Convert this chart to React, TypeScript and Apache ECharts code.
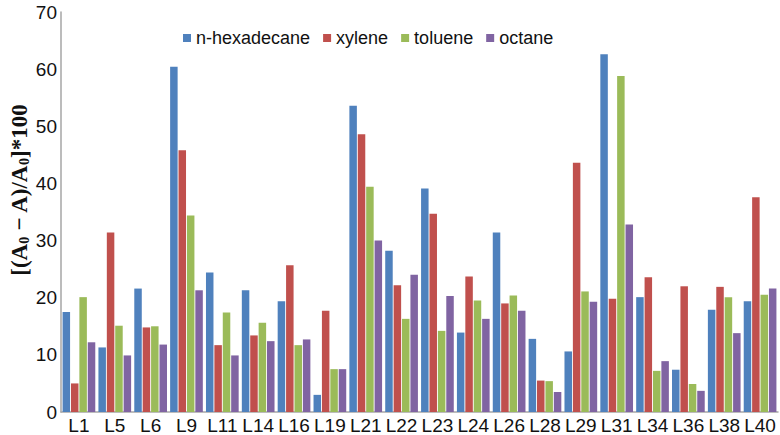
import React, { useEffect, useRef } from "react";
import * as echarts from "echarts";

const categories = ["L1","L5","L6","L9","L11","L14","L16","L19","L21","L22","L23","L24","L26","L28","L29","L31","L34","L36","L38","L40"];
const hexadecane = [17.5,11.3,21.6,60.4,24.4,21.3,19.4,3.0,53.6,28.2,39.1,13.9,31.4,12.8,10.6,62.6,20.1,7.4,17.9,19.4];
const xylene =     [5.0,31.4,14.8,45.8,11.7,13.4,25.7,17.7,48.6,22.2,34.7,23.7,19.0,5.5,43.6,19.8,23.6,22.0,21.9,37.6];
const toluene =    [20.1,15.1,15.0,34.4,17.4,15.6,11.7,7.5,39.4,16.3,14.2,19.5,20.4,5.4,21.1,58.8,7.2,4.9,20.1,20.5];
const octane =     [12.2,9.9,11.8,21.3,9.9,12.4,12.7,7.5,30.0,24.0,20.3,16.3,17.7,3.5,19.3,32.8,8.9,3.7,13.8,21.6];
const seriesNames = ["n-hexadecane","xylene","toluene","octane"];
const seriesColors = ["#4F81BD","#C0504D","#9BBB59","#8064A2"];

export default function App() {
  const ref = useRef<HTMLDivElement>(null);
  useEffect(() => {
    if (!ref.current) return;
    const chart = echarts.init(ref.current, undefined, { renderer: "svg" });
    const sans = "'Liberation Sans', Arial, Helvetica, sans-serif";
    const data = [hexadecane, xylene, toluene, octane];
    chart.setOption({
      animation: false,
      backgroundColor: "#ffffff",
      grid: { left: 61, right: 2, top: 12, bottom: 23, containLabel: false },
      legend: {
        data: seriesNames,
        left: 183,
        top: 29,
        padding: 0,
        icon: "rect",
        itemWidth: 8,
        itemHeight: 8,
        itemGap: 13,
        textStyle: { fontSize: 18, color: "#111", fontFamily: sans },
      },
      xAxis: {
        type: "category",
        data: categories,
        axisLine: { show: true, lineStyle: { color: "#a6a6a6", width: 1.5 } },
        axisTick: { show: false },
        axisLabel: { interval: 0, fontSize: 19, color: "#111", fontFamily: sans, margin: 4 },
        splitLine: { show: false },
      },
      yAxis: {
        type: "value",
        min: 0,
        max: 70,
        interval: 10,
        axisLine: { show: true, lineStyle: { color: "#a6a6a6", width: 1.5 } },
        axisTick: { show: false },
        axisLabel: { fontSize: 19, color: "#111", fontFamily: sans, margin: 4 },
        splitLine: { show: false },
      },
      graphic: [
        {
          type: "text",
          x: 19,
          y: 190,
          rotation: Math.PI / 2,
          style: {
            text: "[(A{s|0} − A)/A{s|0}]*100",
            fontFamily: "'Liberation Serif', 'Times New Roman', serif",
            fontWeight: "bold",
            fontSize: 23,
            fill: "#111",
            align: "center",
            verticalAlign: "middle",
            rich: {
              s: {
                fontFamily: "'Liberation Serif', 'Times New Roman', serif",
                fontWeight: "bold",
                fontSize: 14,
                padding: [10, 0, 0, 0],
                fill: "#111",
              },
            },
          },
        },
      ],
      series: seriesNames.map((name, i) => ({
        name,
        type: "bar",
        data: data[i],
        barWidth: 7.5,
        barGap: "12%",
        itemStyle: { color: seriesColors[i] },
      })),
    });
    return () => chart.dispose();
  }, []);
  return <div ref={ref} style={{ width: 780, height: 435, position: "absolute", left: 0, top: 0 }} />;
}
